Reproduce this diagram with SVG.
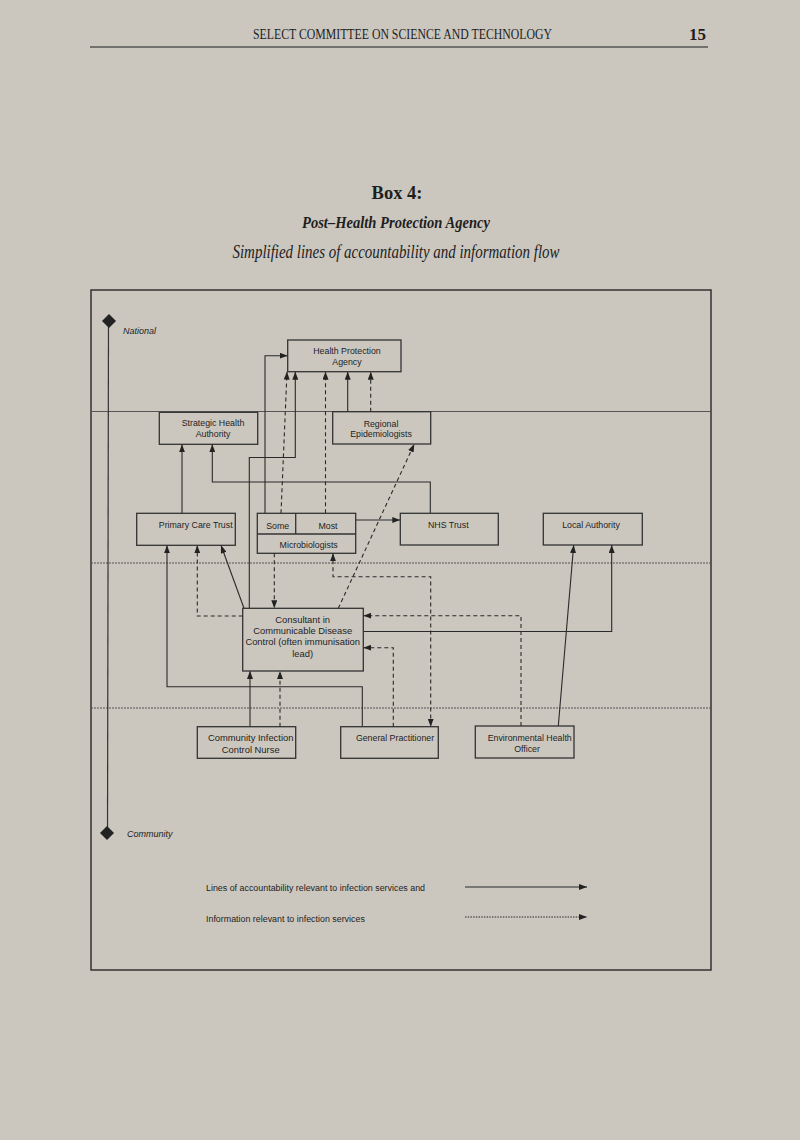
<svg xmlns="http://www.w3.org/2000/svg" width="800" height="1140" viewBox="0 0 800 1140">
<style>
.bg{fill:#cbc7bf}
.box{fill:none;stroke:#333;stroke-width:1.3}
.t{font-family:"Liberation Sans",Arial,sans-serif;font-size:8.8px;fill:#1e1e1e;text-anchor:middle}
.tl{font-family:"Liberation Sans",Arial,sans-serif;font-size:9.4px;fill:#1e1e1e;text-anchor:middle}
.it{font-family:"Liberation Sans",Arial,sans-serif;font-size:9px;font-style:italic;fill:#1e1e1e}
.lg{font-family:"Liberation Sans",Arial,sans-serif;font-size:8.9px;fill:#1e1e1e}
.s{fill:none;stroke:#2a2a2a;stroke-width:1.1}
.d{fill:none;stroke:#2a2a2a;stroke-width:1.1;stroke-dasharray:4 3}
.sep{stroke:#555;stroke-width:1}
.sepd{stroke:#555;stroke-width:1;stroke-dasharray:2 1}
.serif{font-family:"Liberation Serif","Times New Roman",serif;fill:#1e1e1e}
</style>
<defs>
<marker id="a" viewBox="0 0 8 6" refX="8" refY="3" markerWidth="8" markerHeight="6" markerUnits="userSpaceOnUse" orient="auto-start-reverse"><path d="M0,0L8,3L0,6z" fill="#222"/></marker>
</defs>
<rect class="bg" x="0" y="0" width="800" height="1140"/>

<g id="header">
<text class="serif" x="253" y="39" font-size="15" textLength="299" lengthAdjust="spacingAndGlyphs">SELECT COMMITTEE ON SCIENCE AND TECHNOLOGY</text>
<text class="serif" x="689" y="40" font-size="17" font-weight="bold">15</text>
<line x1="90" y1="47" x2="708" y2="47" stroke="#555" stroke-width="1.5"/>
</g>

<g id="title">
<text class="serif" x="397" y="199" font-size="18.5" font-weight="bold" text-anchor="middle">Box 4:</text>
<text class="serif" x="396" y="228" font-size="17" font-weight="bold" font-style="italic" text-anchor="middle" textLength="188" lengthAdjust="spacingAndGlyphs">Post–Health Protection Agency</text>
<text class="serif" x="396" y="258" font-size="18" font-style="italic" text-anchor="middle" textLength="327" lengthAdjust="spacingAndGlyphs">Simplified lines of accountability and information flow</text>
</g>

<g id="frame">
<rect x="91" y="290" width="620" height="680" fill="none" stroke="#333" stroke-width="1.5"/>
<line class="sep" x1="91" y1="411.5" x2="711" y2="411.5"/>
<line class="sepd" x1="91" y1="563" x2="711" y2="563"/>
<line class="sepd" x1="91" y1="708" x2="711" y2="708"/>
</g>

<g id="levels">
<line x1="108.5" y1="321" x2="107.5" y2="833" stroke="#333" stroke-width="1.2"/>
<path d="M109,314 L116,321 L109,328 L102,321 Z" fill="#222"/>
<text class="it" x="123" y="334">National</text>
<path d="M107,826 L114,833 L107,840 L100,833 Z" fill="#222"/>
<text class="it" x="127" y="837">Community</text>
</g>

<g id="connectors">
<!-- accountability (solid) -->
<path class="s" d="M265,513.3 V355.7 H287.7" marker-end="url(#a)"/>
<path class="s" d="M249.3,608.3 V457.5 H295.3 V371.7" marker-end="url(#a)"/>
<path class="s" d="M347.7,411.7 V371.7" marker-end="url(#a)"/>
<path class="s" d="M182,513.3 V444.3" marker-end="url(#a)"/>
<path class="s" d="M430.3,513.3 V482 H212.3 V444.3" marker-end="url(#a)"/>
<path class="s" d="M355.7,520 H400.3" marker-end="url(#a)"/>
<path class="s" d="M362.3,726.7 V686.7 H167 V545.3" marker-end="url(#a)"/>
<path class="s" d="M244,608.3 L221,545.3" marker-end="url(#a)"/>
<path class="s" d="M250,726.7 V671" marker-end="url(#a)"/>
<path class="s" d="M558.3,726 L573.7,545" marker-end="url(#a)"/>
<path class="s" d="M363.3,631.5 H611.7 V545" marker-end="url(#a)"/>
<!-- information (dashed) -->
<path class="d" d="M281,513.3 L287,371.7" marker-end="url(#a)"/>
<path class="d" d="M325.5,513.3 V371.7" marker-end="url(#a)"/>
<path class="d" d="M370.7,411.7 V371.7" marker-end="url(#a)"/>
<path class="d" d="M338.3,608.3 L414.3,444" marker-end="url(#a)"/>
<path class="d" d="M274.3,553.3 V608.3" marker-end="url(#a)"/>
<path class="d" d="M242.7,616 H197.3 V545.3" marker-end="url(#a)"/>
<path class="d" d="M333,553.3 V576.7 H430.7 V726.7" marker-start="url(#a)" marker-end="url(#a)"/>
<path class="d" d="M521,726 V615.7 H363.3" marker-end="url(#a)"/>
<path class="d" d="M393.3,726.7 V647.7 H363.3" marker-end="url(#a)"/>
<path class="d" d="M280,726.7 V671" marker-end="url(#a)"/>
</g>

<g id="hpa">
<rect class="box" x="287.7" y="340" width="113.3" height="31.7"/>
<text class="t" x="347" y="354">Health Protection</text>
<text class="t" x="347" y="364.7">Agency</text>
</g>
<g id="sha">
<rect class="box" x="159.3" y="412.3" width="98.4" height="32"/>
<text class="t" x="213" y="426.3">Strategic Health</text>
<text class="t" x="213" y="437">Authority</text>
</g>
<g id="regepi">
<rect class="box" x="332.7" y="411.7" width="98" height="32.3"/>
<text class="t" x="381" y="426.7">Regional</text>
<text class="t" x="381" y="437.3">Epidemiologists</text>
</g>
<g id="pct">
<rect class="box" x="136.7" y="513.3" width="98.6" height="32"/>
<text class="t" x="195.7" y="527.7">Primary Care Trust</text>
</g>
<g id="micro">
<rect class="box" x="257.3" y="513.3" width="98.4" height="40"/>
<line class="box" x1="257.3" y1="534" x2="355.7" y2="534"/>
<line class="box" x1="295.7" y1="513.3" x2="295.7" y2="534"/>
<text class="t" x="277.7" y="528.7">Some</text>
<text class="t" x="328" y="528.7">Most</text>
<text class="t" x="308.7" y="547.7">Microbiologists</text>
</g>
<g id="nhs">
<rect class="box" x="400.3" y="513.3" width="98" height="31.7"/>
<text class="t" x="448.3" y="527.7">NHS Trust</text>
</g>
<g id="la">
<rect class="box" x="543.3" y="513.3" width="99" height="31.7"/>
<text class="t" x="591" y="527.7">Local Authority</text>
</g>
<g id="ccdc">
<rect class="box" x="242.7" y="608.3" width="120.6" height="62.7"/>
<text class="tl" x="302.7" y="623.3">Consultant in</text>
<text class="tl" x="302.7" y="634.3">Communicable Disease</text>
<text class="tl" x="302.7" y="645.3">Control (often immunisation</text>
<text class="tl" x="302.7" y="656.6">lead)</text>
</g>
<g id="cicn">
<rect class="box" x="197.3" y="726.7" width="98.4" height="31.6"/>
<text class="tl" x="250.7" y="741">Community Infection</text>
<text class="tl" x="250.7" y="752.6">Control Nurse</text>
</g>
<g id="gp">
<rect class="box" x="340.7" y="726.7" width="97.6" height="31.6"/>
<text class="t" x="395" y="741">General Practitioner</text>
</g>
<g id="eho">
<rect class="box" x="475.3" y="726" width="98.7" height="32"/>
<text class="t" x="529.7" y="741">Environmental Health</text>
<text class="t" x="527" y="751.7">Officer</text>
</g>

<g id="legend">
<text class="lg" x="206" y="891">Lines of accountability relevant to infection services and</text>
<text class="lg" x="206" y="922">Information relevant to infection services</text>
<path class="s" d="M465,887 H587" marker-end="url(#a)"/>
<path fill="none" stroke="#2a2a2a" stroke-width="1.1" stroke-dasharray="1.5 1.2" d="M465,917 H587" marker-end="url(#a)"/>
</g>
</svg>
